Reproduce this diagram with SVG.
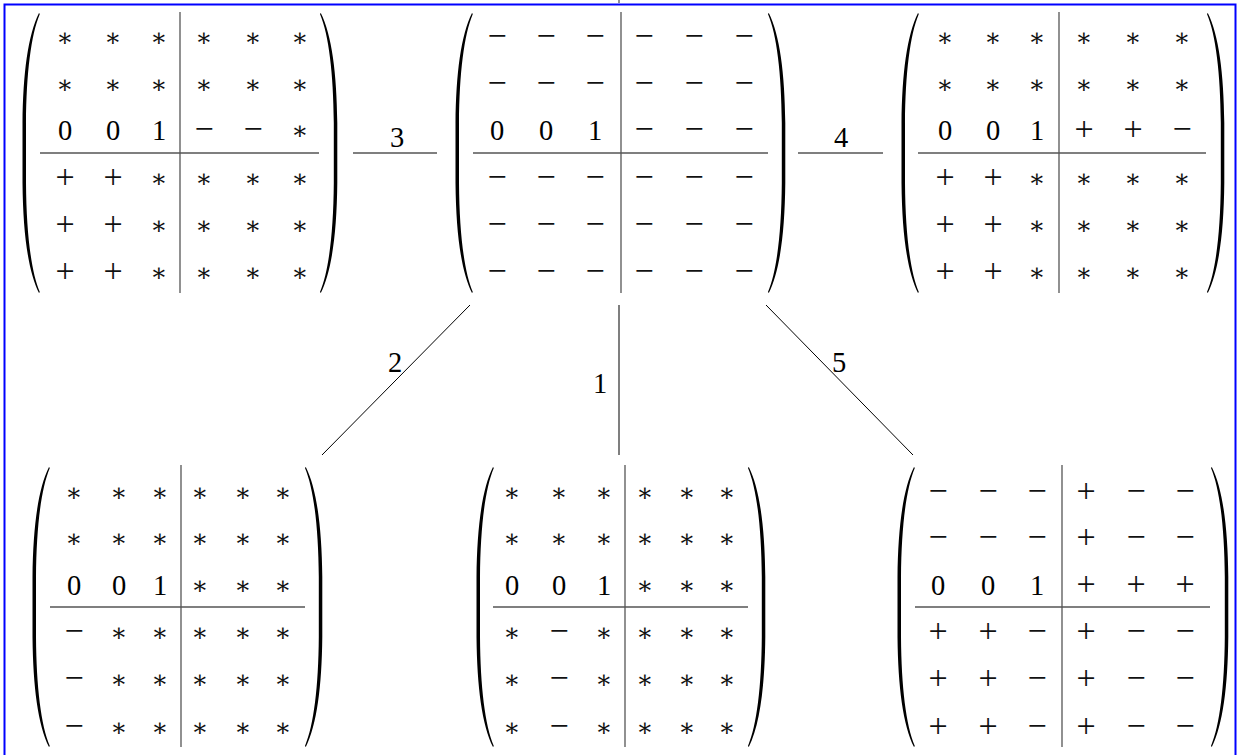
<svg xmlns="http://www.w3.org/2000/svg" xmlns:xlink="http://www.w3.org/1999/xlink" width="1247" height="755" viewBox="0 0 1247 755">
<style>
.d{font-family:"Liberation Serif",serif;font-size:28.5px;text-anchor:middle;fill:#000}
.p{font-family:"Liberation Serif",serif;font-size:34px;text-anchor:middle;fill:#111}
.s{font-family:"DejaVu Serif",serif;font-size:25px;text-anchor:middle;fill:#111}
.l{font-family:"Liberation Serif",serif;font-size:28.5px;text-anchor:middle;fill:#000}
.rule{stroke:#555;stroke-width:1.3;fill:none}
.edge{stroke:#000;stroke-width:1;fill:none}
.edgeg{stroke:#555;stroke-width:1.5;fill:none}
</style>
<defs>
<path id="lp" d="M17,0 C6,22 1,60 0.5,110 L0.5,170 C1,220 6,258 17,280 L17.8,279 C9,258 4.4,220 4,170 L4,110 C4.4,60 9,22 17.8,1 Z" fill="#000"/>
<g id="rp"><use xlink:href="#lp" href="#lp" transform="matrix(-1 0 0 1 17.8 0)"/></g>
</defs>
<rect width="1247" height="755" fill="#fff"/>
<rect x="4.5" y="4.5" width="1231" height="770" fill="none" stroke="#0000ff" stroke-width="2"/>
<line x1="619" y1="0" x2="619" y2="3" class="rule"/>

<g id="connectors">
<line class="edgeg" x1="353" y1="153" x2="437" y2="153"/>
<line class="edgeg" x1="798" y1="153" x2="883" y2="153"/>
<line class="edge" x1="470" y1="305" x2="322" y2="455"/>
<line class="edgeg" x1="619" y1="305" x2="619" y2="455"/>
<line class="edge" x1="766" y1="305" x2="913" y2="455"/>
<text class="l" x="397" y="146.5">3</text>
<text class="l" x="841" y="146.5">4</text>
<text class="l" x="395" y="371.5">2</text>
<text class="l" x="600" y="392.5">1</text>
<text class="l" x="839" y="371.5">5</text>
</g>

<g id="m_tl">
<use xlink:href="#lp" href="#lp" x="22" y="13"/>
<use xlink:href="#rp" href="#rp" x="320" y="13"/>
<line class="rule" x1="180" y1="12" x2="180" y2="293"/>
<line class="rule" x1="40" y1="153" x2="319" y2="153"/>
<text class="s" x="65 113 159 204 253 300" y="45.5">∗∗∗∗∗∗</text>
<text class="s" x="65 113 159 204 253 300" y="92.5">∗∗∗∗∗∗</text>
<text class="d" x="65 113 159" y="139.5">001</text>
<text class="p" x="204 253" y="140">−−</text>
<text class="s" x="300" y="138.5">∗</text>
<text class="p" x="65 113" y="188">++</text>
<text class="s" x="159 204 253 300" y="186.5">∗∗∗∗</text>
<text class="p" x="65 113" y="235">++</text>
<text class="s" x="159 204 253 300" y="233.5">∗∗∗∗</text>
<text class="p" x="65 113" y="282">++</text>
<text class="s" x="159 204 253 300" y="280.5">∗∗∗∗</text>
</g>

<g id="m_tm">
<use xlink:href="#lp" href="#lp" x="455" y="13"/>
<use xlink:href="#rp" href="#rp" x="768" y="13"/>
<line class="rule" x1="621" y1="12" x2="621" y2="293"/>
<line class="rule" x1="473" y1="153" x2="768" y2="153"/>
<text class="p" x="497 546 595 644 694 744" y="47">−−−−−−</text>
<text class="p" x="497 546 595 644 694 744" y="94">−−−−−−</text>
<text class="d" x="497 546 595" y="139.5">001</text>
<text class="p" x="644 694 744" y="140">−−−</text>
<text class="p" x="497 546 595 644 694 744" y="188">−−−−−−</text>
<text class="p" x="497 546 595 644 694 744" y="235">−−−−−−</text>
<text class="p" x="497 546 595 644 694 744" y="282">−−−−−−</text>
</g>

<g id="m_tr">
<use xlink:href="#lp" href="#lp" x="901" y="13"/>
<use xlink:href="#rp" href="#rp" x="1207" y="13"/>
<line class="rule" x1="1059" y1="12" x2="1059" y2="293"/>
<line class="rule" x1="918" y1="153" x2="1206" y2="153"/>
<text class="s" x="945 993 1037 1084 1133 1182" y="45.5">∗∗∗∗∗∗</text>
<text class="s" x="945 993 1037 1084 1133 1182" y="92.5">∗∗∗∗∗∗</text>
<text class="d" x="945 993 1037" y="139.5">001</text>
<text class="p" x="1084 1133 1182" y="140">++−</text>
<text class="p" x="945 993" y="188">++</text>
<text class="s" x="1037 1084 1133 1182" y="186.5">∗∗∗∗</text>
<text class="p" x="945 993" y="235">++</text>
<text class="s" x="1037 1084 1133 1182" y="233.5">∗∗∗∗</text>
<text class="p" x="945 993" y="282">++</text>
<text class="s" x="1037 1084 1133 1182" y="280.5">∗∗∗∗</text>
</g>

<g id="m_bl">
<use xlink:href="#lp" href="#lp" x="32" y="467"/>
<use xlink:href="#rp" href="#rp" x="305" y="467"/>
<line class="rule" x1="181" y1="465" x2="181" y2="747"/>
<line class="rule" x1="50" y1="607" x2="305" y2="607"/>
<text class="s" x="74 119 160 200 243 283" y="500.5">∗∗∗∗∗∗</text>
<text class="s" x="74 119 160 200 243 283" y="546.5">∗∗∗∗∗∗</text>
<text class="d" x="74 119 160" y="594.5">001</text>
<text class="s" x="200 243 283" y="593.5">∗∗∗</text>
<text class="p" x="74" y="642">−</text>
<text class="s" x="119 160 200 243 283" y="640.5">∗∗∗∗∗</text>
<text class="p" x="74" y="689">−</text>
<text class="s" x="119 160 200 243 283" y="687.5">∗∗∗∗∗</text>
<text class="p" x="74" y="737">−</text>
<text class="s" x="119 160 200 243 283" y="735.5">∗∗∗∗∗</text>
</g>

<g id="m_bm">
<use xlink:href="#lp" href="#lp" x="476" y="467"/>
<use xlink:href="#rp" href="#rp" x="748" y="467"/>
<line class="rule" x1="625" y1="465" x2="625" y2="747"/>
<line class="rule" x1="493" y1="607" x2="748" y2="607"/>
<text class="s" x="512 559 604 645 687 727" y="500.5">∗∗∗∗∗∗</text>
<text class="s" x="512 559 604 645 687 727" y="546.5">∗∗∗∗∗∗</text>
<text class="d" x="512 559 604" y="594.5">001</text>
<text class="s" x="645 687 727" y="593.5">∗∗∗</text>
<text class="s" x="512" y="640.5">∗</text>
<text class="p" x="559" y="642">−</text>
<text class="s" x="604 645 687 727" y="640.5">∗∗∗∗</text>
<text class="s" x="512" y="687.5">∗</text>
<text class="p" x="559" y="689">−</text>
<text class="s" x="604 645 687 727" y="687.5">∗∗∗∗</text>
<text class="s" x="512" y="735.5">∗</text>
<text class="p" x="559" y="737">−</text>
<text class="s" x="604 645 687 727" y="735.5">∗∗∗∗</text>
</g>

<g id="m_br">
<use xlink:href="#lp" href="#lp" x="897" y="467"/>
<use xlink:href="#rp" href="#rp" x="1211" y="467"/>
<line class="rule" x1="1062" y1="465" x2="1062" y2="747"/>
<line class="rule" x1="915" y1="607" x2="1210" y2="607"/>
<text class="p" x="938 988 1037 1086 1136 1185" y="502">−−−+−−</text>
<text class="p" x="938 988 1037 1086 1136 1185" y="548">−−−+−−</text>
<text class="d" x="938 988 1037" y="594.5">001</text>
<text class="p" x="1086 1136 1185" y="595">+++</text>
<text class="p" x="938 988 1037 1086 1136 1185" y="642">++−+−−</text>
<text class="p" x="938 988 1037 1086 1136 1185" y="689">++−+−−</text>
<text class="p" x="938 988 1037 1086 1136 1185" y="737">++−+−−</text>
</g>
</svg>
